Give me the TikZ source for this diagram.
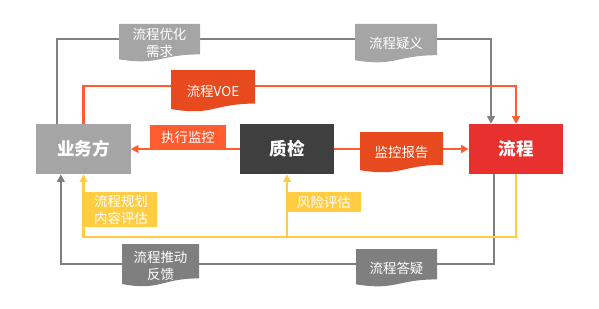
\documentclass[tikz,border=0pt]{standalone}
\usepackage{fontspec}
\newfontfamily\cjk{Noto Sans CJK SC}
\usetikzlibrary{arrows.meta,calc}
\definecolor{bizgray}{HTML}{A5A5A5}
\definecolor{qcdark}{HTML}{3F3F3F}
\definecolor{flowred}{HTML}{E8302E}
\definecolor{linegray}{HTML}{808080}
\definecolor{darkgray}{HTML}{7F7F7F}
\definecolor{lineorange}{HTML}{FF5D30}
\definecolor{docorange}{HTML}{E64A1E}
\definecolor{lineyellow}{HTML}{FFCC42}
\begin{document}
\begin{tikzpicture}[x=0.03cm, y=-0.03cm,
		font=\cjk,
		mainbox/.style={minimum width=2.82cm, minimum height=1.5cm, inner sep=0pt, text=white,
			font=\cjk\bfseries\fontsize{15}{18}\selectfont},
		tagbox/.style={fill=#1, inner sep=0pt, text=white, align=center,
			font=\cjk\fontsize{11.5}{14.5}\selectfont},
		docbox/.style={inner sep=0pt, text=white, align=center,
			font=\cjk\fontsize{11.5}{14.5}\selectfont,
			path picture={\fill[#1] let \p1=(path picture bounding box.south west), \p2=(path picture bounding box.north east), \n1={\x2-\x1}, \n2={\y2-\y1} in
				(\x1,\y2) -- (\x2,\y2) -- (\x2,{\y1+0.2*\n2}) .. controls ({\x1+0.5*\n1},{\y1+0.2*\n2}) and ({\x1+0.5*\n1},{\y1-0.1*\n2}) .. (\x1,{\y1+0.07*\n2}) -- cycle;}},
		tri/.tip={Triangle[length=2.3mm, width=2.3mm]},
		gline/.style={draw=linegray, line width=1.8pt},
		dline/.style={draw=darkgray, line width=1.8pt},
		oline/.style={draw=lineorange, line width=1.8pt},
		yline/.style={draw=lineyellow, line width=1.8pt}]
	\useasboundingbox (0,0) rectangle (599,308);
	\node[mainbox, fill=bizgray] (biz) at (83.5,149) {业务方};
	\node[mainbox, fill=qcdark] (qc) at (287,149) {质检};
	\node[mainbox, fill=flowred] (flow) at (516,149) {流程};
	\coordinate (ttop) at (300,39);
	\coordinate (tvoe) at (300,86);
	\coordinate (tyel) at (300,237);
	\coordinate (tbot) at (300,264);
	\draw[gline, -tri] ([xshift=-0.8cm]biz.north) |- (ttop) -| ([xshift=-0.75cm]flow.north);
	\draw[oline, -tri] (biz.north) |- (tvoe) -| (flow.north);
	\draw[oline, -tri] (qc) -- (biz);
	\draw[oline, -tri] (qc) -- (flow);
	\draw[dline, -tri] ([xshift=-0.66cm]flow.south) |- (tbot) -| ([xshift=-0.68cm]biz.south);
	\draw[yline, -tri] (flow.south) |- (tyel) -| (biz.south);
	\draw[yline, -tri] (qc.south |- tyel) -- (qc.south);
	\node[docbox=bizgray, minimum width=2.43cm, minimum height=1.14cm] (need) at (159.5,43) {流程优化\\需求};
	\node[docbox=bizgray, minimum width=2.46cm, minimum height=1.17cm] (doubt) at (396,43.5) {流程疑义};
	\node[docbox=docorange, minimum width=2.52cm, minimum height=1.26cm] (voe) at (213,91) {流程VOE};
	\node[tagbox=lineorange, minimum width=2.28cm, minimum height=0.72cm] (watch) at (188,137) {执行监控};
	\node[docbox=docorange, minimum width=2.49cm, minimum height=1.23cm] (report) at (401.5,152.5) {监控报告};
	\node[tagbox=lineyellow, minimum width=2.16cm, minimum height=1.05cm] (plan) at (121,209.5) {流程规划\\内容评估};
	\node[tagbox=lineyellow, minimum width=2.22cm, minimum height=0.6cm] (risk) at (324,202) {风险评估};
	\node[docbox=darkgray, minimum width=2.31cm, minimum height=1.29cm] (push) at (160.5,265.5) {流程推动\\反馈};
	\node[docbox=darkgray, minimum width=2.43cm, minimum height=1.14cm] (answer) at (396.5,268) {流程答疑};
\end{tikzpicture}
\end{document}
